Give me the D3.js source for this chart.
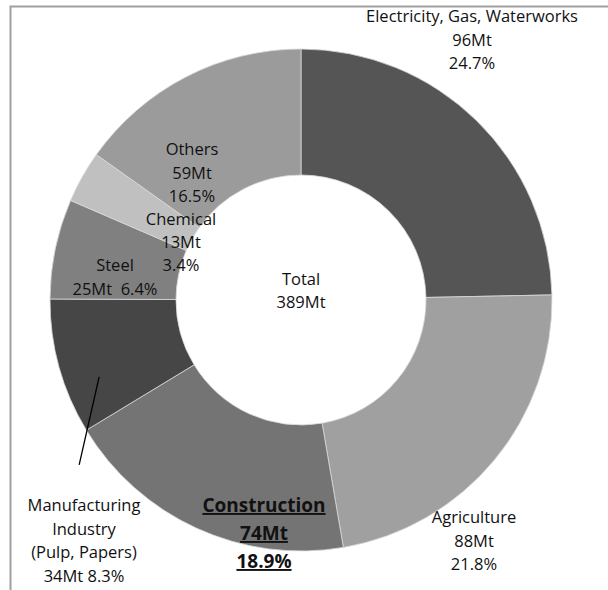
<!DOCTYPE html>
<html>
<head>
<meta charset="utf-8">
<script src="https://cdn.jsdelivr.net/npm/d3@7"></script>
<style>
  body { margin: 0; background: #fff; }
  text { font-family: "Open Sans", Lato, sans-serif; fill: #111; }
</style>
</head>
<body>
<svg id="chart" width="608" height="590"></svg>
<script>
// sector data, clockwise from 12 o'clock
const sectors = ['Electricity', 'Agriculture', 'Construction', 'Manufacturing', 'Steel', 'Chemical', 'Others'];
const emissions = [96, 88, 74, 34, 25, 13, 59]; // Mt
const shareLabels = ['24.7%', '21.8%', '18.9%', '8.3%', '6.4%', '3.4%', '16.5%'];
const totalLabel = ['Total', '389Mt'];

const colors = ['#555555', '#a0a0a0', '#747474', '#464646', '#808080', '#c0c0c0', '#9b9b9b'];

// label text lines per sector (Excel-style manual placement)
const labelLines = [
  ['Electricity, Gas, Waterworks', '96Mt', '24.7%'],
  ['Agriculture', '88Mt', '21.8%'],
  ['Construction', '74Mt', '18.9%'],
  ['Manufacturing', 'Industry', '(Pulp, Papers)', '34Mt 8.3%'],
  ['Steel', '25Mt\u00a0\u00a06.4%'],
  ['Chemical', '13Mt', '3.4%'],
  ['Others', '59Mt', '16.5%']
];
const labelPos = [
  { x: 472, y: 22, step: 23.5 },
  { x: 474, y: 523, step: 23.5 },
  { x: 264, y: 512, step: 28, bold: true },
  { x: 84, y: 511, step: 23.5 },
  { x: 115, y: 271, step: 24 },
  { x: 181, y: 225, step: 23 },
  { x: 192, y: 155, step: 23.5 }
];

const svg = d3.select('#chart');
const cx = 301, cy = 300, outerR = 251, innerR = 125;

// chart frame (only top and left edges visible)
svg.append('path')
  .attr('d', 'M10.5,620 V6.5 H620')
  .attr('fill', 'none')
  .attr('stroke', '#a0a0a0')
  .attr('stroke-width', 2);

const pie = d3.pie().sort(null).value(d => d)(emissions);
const arc = d3.arc().innerRadius(innerR).outerRadius(outerR);

const g = svg.append('g').attr('transform', `translate(${cx},${cy})`);

g.selectAll('path.slice')
  .data(pie)
  .join('path')
  .attr('class', 'slice')
  .attr('d', arc)
  .attr('fill', (d, i) => colors[i])
  .attr('stroke', '#d8d8d8')
  .attr('stroke-width', 0.8);

// leader line for Manufacturing label
const leadAngle = d3.scaleLinear().domain([0, 1]).range([pie[3].startAngle, pie[3].endAngle]);
const a = leadAngle(0.33);
const r0 = 216;
const lx0 = r0 * Math.sin(a), ly0 = -r0 * Math.cos(a);
g.append('line')
  .attr('x1', lx0).attr('y1', ly0)
  .attr('x2', lx0 - 20).attr('y2', ly0 + 88)
  .attr('stroke', '#000')
  .attr('stroke-width', 1.3);

// sector labels
labelLines.forEach((lines, i) => {
  const p = labelPos[i];
  const t = svg.append('text')
    .attr('text-anchor', 'middle')
    .style('font-size', p.bold ? '19px' : '16.5px')
    .style('font-weight', p.bold ? 'bold' : 'normal')
    .style('text-decoration', p.bold ? 'underline' : 'none');
  lines.forEach((s, j) => {
    t.append('tspan').attr('x', p.x).attr('y', p.y + j * p.step).text(s);
  });
});

// centre label
const tc = svg.append('text').attr('text-anchor', 'middle').style('font-size', '16.5px');
totalLabel.forEach((s, j) => {
  tc.append('tspan').attr('x', cx).attr('y', 285 + j * 23).text(s);
});
</script>
</body>
</html>
